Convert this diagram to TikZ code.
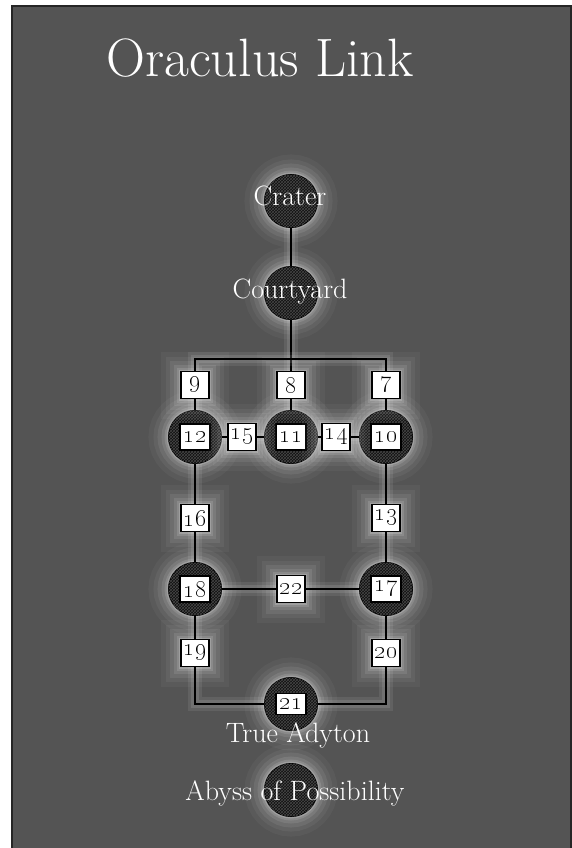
\documentclass[tikz,border=0pt]{standalone}
\usepackage{xcolor}
\usepackage{tikz}
\usetikzlibrary{patterns, positioning}

\definecolor{panelgray}{RGB}{84,84,84}
\definecolor{rimgray}{RGB}{38,38,38}

\begin{document}
\begin{tikzpicture}[
    x=1pt, y=-1pt,
    glow/.style = {preaction={draw=white, opacity=0.04, line width=40pt},
                   preaction={draw=white, opacity=0.05, line width=30pt},
                   preaction={draw=white, opacity=0.07, line width=22pt},
                   preaction={draw=white, opacity=0.09, line width=14pt},
                   preaction={draw=white, opacity=0.12, line width=8pt},
                   preaction={draw=white, opacity=0.18, line width=4pt}},
    hub/.style = {circle, draw=black, line width=1pt, minimum size=53pt, inner sep=0pt, fill=black!94,
                  postaction={pattern=crosshatch, pattern color=black!72}, glow},
    hubbox/.style = {rectangle, draw=black, line width=1.5pt, fill=white, minimum width=30pt, minimum height=26pt,
                     inner sep=1pt, font=\fontsize{24}{24}\selectfont},
    numbox/.style = {hubbox, minimum width=28pt, minimum height=27pt, glow},
    place/.style = {text=white, anchor=base, font=\fontsize{28}{30}\selectfont},
    link/.style = {draw=black, line width=2.8pt, preaction={draw=white, opacity=0.08, line width=14pt},
                   preaction={draw=white, opacity=0.1, line width=8pt}}
]

% panel
\fill[white] (0,0) rectangle (572,848);
\fill[rimgray] (11,5) rectangle (572,848);
\fill[panelgray] (13,7) rectangle (570,848);

\node[text=white, anchor=base, font=\fontsize{54}{58}\selectfont] (title) at (260,77) {Oraculus Link};

% rooms
\node[hub] (crater) at (291,201) {};
\node[hub] (courtyard) at (291,293) {};

\node[hub] (c12) at (195,437) {};
\node[hub] (c11) at (291,437) {};
\node[hub] (c10) at (386,437) {};
\node[hub] (c18) at (195,589) {};
\node[hub] (c17) at (386,589) {};
\node[hub] (c21) at (291,704) {};
\node[hub] (abyss) at (291,790) {};

\node[hubbox] (b12) at (c12) {\oldstylenums{12}};
\node[hubbox] (b11) at (c11) {\oldstylenums{11}};
\node[hubbox] (b10) at (c10) {\oldstylenums{10}};
\node[hubbox] (b18) at (c18) {\oldstylenums{18}};
\node[hubbox] (b17) at (c17) {\oldstylenums{17}};
\node[hubbox, minimum height=21pt] (b21) at (c21) {\oldstylenums{21}};

% passages
\node[numbox] (n9) at (195,385) {\oldstylenums{9}};
\node[numbox] (n8) at (291,385) {\oldstylenums{8}};
\node[numbox] (n7) at (386,385) {\oldstylenums{7}};
\node[numbox] (n15) at (242,437) {\oldstylenums{15}};
\node[numbox] (n14) at (336,437) {\oldstylenums{14}};
\node[numbox] (n16) at (195,518) {\oldstylenums{16}};
\node[numbox] (n13) at (386,518) {\oldstylenums{13}};
\node[numbox] (n22) at (291,589) {\oldstylenums{22}};
\node[numbox] (n19) at (195,653) {\oldstylenums{19}};
\node[numbox] (n20) at (386,653) {\oldstylenums{20}};

\coordinate (bar) at (291,359);

\draw[link] (crater) -- (courtyard);
\draw[link] (courtyard) -- (n8);
\draw[link] (n9) |- (bar) -| (n7);

\draw[link] (n9) -- (c12);
\draw[link] (n8) -- (c11);
\draw[link] (n7) -- (c10);

\draw[link] (c12) -- (n15);
\draw[link] (n15) -- (c11);
\draw[link] (c11) -- (n14);
\draw[link] (n14) -- (c10);

\draw[link] (c12) -- (n16);
\draw[link] (n16) -- (c18);
\draw[link] (c10) -- (n13);
\draw[link] (n13) -- (c17);

\draw[link] (c18) -- (n22);
\draw[link] (n22) -- (c17);

\draw[link] (c18) -- (n19);
\draw[link] (c17) -- (n20);
\draw[link] (n19) |- (c21);
\draw[link] (c21) -| (n20);

% names
\node[place] (tcrater) at (290,205) {Crater};
\node[place] (tcourtyard) at (290,298) {Courtyard};
\node[place] (tadyton) at (298,742) {True Adyton};
\node[place] (tabyss) at (295,800) {Abyss of Possibility};

\end{tikzpicture}
\end{document}
